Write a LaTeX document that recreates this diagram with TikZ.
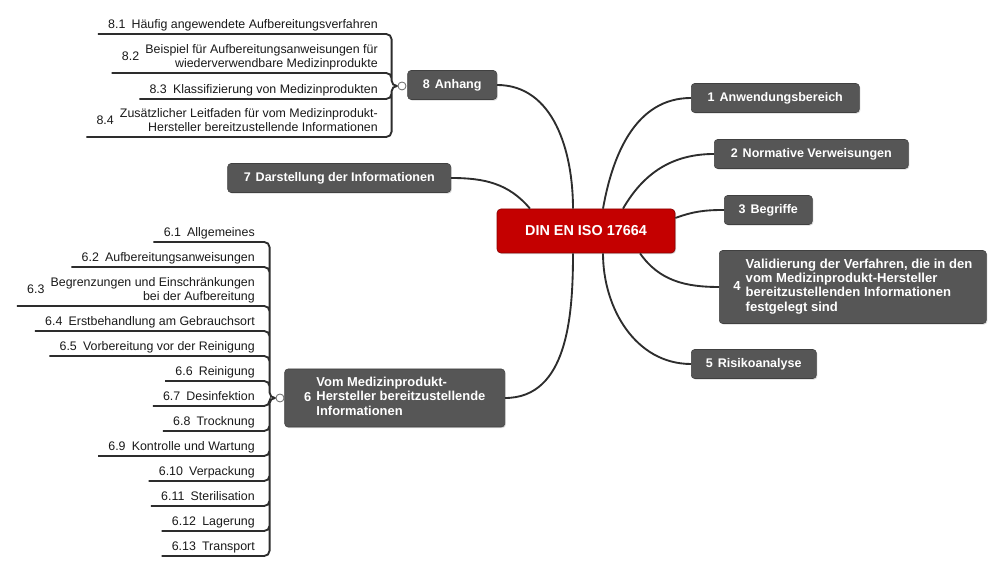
\documentclass[tikz,border=0pt]{standalone}
\usepackage{fontspec}
\setmainfont{Liberation Sans}
\usepackage{xcolor}
\definecolor{boxgray}{RGB}{86,86,86}
\definecolor{rootred}{RGB}{196,0,0}
\definecolor{linegray}{RGB}{45,45,45}
\newcommand{\topiclabel}[2]{#1\hspace{0.4em}\begin{tabular}[c]{@{}l@{}}#2\end{tabular}}
\newcommand{\secline}[2]{#1\hspace{0.5em}\begin{tabular}[c]{@{}r@{}}#2\end{tabular}}
\usepackage{tikz}
\usetikzlibrary{calc}
\usetikzlibrary{shadows}

\begin{document}
\begin{tikzpicture}[x=0.75pt, y=0.75pt,
    topicbox/.style={fill=boxgray, draw=black!75, line width=0.4pt, rounded corners=2.5pt,
      text=white, font=\bfseries\fontsize{9.4}{10.7}\selectfont, minimum height=21.75pt,
      inner xsep=6pt, drop shadow={opacity=0.3, shadow xshift=0.8pt, shadow yshift=-0.8pt}},
    rootbox/.style={fill=rootred, draw=rootred!70!black, line width=0.5pt, rounded corners=3pt,
      text=white, font=\bfseries\fontsize{10.8}{13}\selectfont, minimum width=133.5pt,
      minimum height=33pt, drop shadow={opacity=0.3, shadow xshift=0.8pt, shadow yshift=-0.8pt}},
    secitem/.style={anchor=south east, inner xsep=7.5pt, inner ysep=1.2pt,
      font=\fontsize{9.3}{10.2}\selectfont, text=black!90},
    hubdot/.style={circle, draw=black!60, fill=white, inner sep=0pt, minimum size=6pt, line width=0.6pt},
    branchline/.style={draw=linegray, line width=1.4pt},
    bracketline/.style={draw=linegray, line width=1.4pt, rounded corners=4pt}]

    \useasboundingbox (0, 0) rectangle (1000, 570);

    \node [rootbox] (din) at (586, 339) {DIN EN ISO 17664};

    \node [topicbox, anchor=west, minimum width=126pt] (anw) at (691, 472)
    {1\hspace{0.4em}Anwendungsbereich};

    \node [topicbox, anchor=west, minimum width=145.5pt] (norm) at (714, 416)
    {2\hspace{0.4em}Normative Verweisungen};

    \node [topicbox, anchor=west, minimum width=66pt] (begr) at (724, 360)
    {3\hspace{0.4em}Begriffe};

    \node [topicbox, anchor=west, minimum width=200.25pt, minimum height=54.75pt,
      font=\bfseries\fontsize{9.8}{10.7}\selectfont] (valid) at (719, 283)
    {\topiclabel{4}{Validierung der Verfahren, die in den\\vom Medizinprodukt-Hersteller\\bereitzustellenden Informationen\\festgelegt sind}};

    \node [topicbox, anchor=west, minimum width=93.75pt] (risk) at (691, 206)
    {5\hspace{0.4em}Risikoanalyse};

    \node [topicbox, anchor=east, minimum width=165pt, minimum height=43.5pt,
      font=\bfseries\fontsize{9.7}{10.7}\selectfont] (info) at (505, 172)
    {\raisebox{-2pt}{\topiclabel{6}{Vom Medizinprodukt-\\Hersteller bereitzustellende\\Informationen}}\hspace{16pt}};

    \node [topicbox, anchor=east, minimum width=167.25pt] (darst) at (451, 392)
    {7\hspace{0.4em}Darstellung der Informationen};

    \node [topicbox, anchor=east, minimum width=66.75pt] (anh) at (497, 485)
    {8\hspace{0.4em}Anhang};

    \draw [branchline] ($(din.north)+(-13,0)$) to [out=90, in=0] (anh.east);
    \draw [branchline] ($(din.north)+(-56,0)$) to [out=130, in=0] (darst.east);
    \draw [branchline] ($(din.north)+(17,0)$) to [out=80, in=180] (anw.west);
    \draw [branchline] ($(din.north)+(37,0)$) to [out=60, in=180] (norm.west);
    \draw [branchline] ($(din.east)+(0,13)$) to [out=20, in=180] (begr.west);
    \draw [branchline] ($(din.south)+(54,0)$) to [out=-55, in=180] (valid.west);
    \draw [branchline] ($(din.south)+(17,0)$) to [out=-90, in=180] (risk.west);
    \draw [branchline] ($(din.south)+(-13,0)$) to [out=-90, in=0] (info.east);

    \node [hubdot] (anhhub) at (402, 484) {};

    \node [secitem] (anh1) at (388, 536)
    {\secline{8.1}{Häufig angewendete Aufbereitungsverfahren}};
    \node [secitem] (anh2) at (388, 497)
    {\secline{8.2}{Beispiel für Aufbereitungsanweisungen für\\wiederverwendbare Medizinprodukte}};
    \node [secitem] (anh3) at (388, 471)
    {\secline{8.3}{Klassifizierung von Medizinprodukten}};
    \node [secitem] (anh4) at (388, 433)
    {\secline{8.4}{Zusätzlicher Leitfaden für vom Medizinprodukt-\\Hersteller bereitzustellende Informationen}};

    \draw [bracketline] (anhhub.west) -- ++(-6,0) |- (anh1.south west)
    (anhhub.west) -- ++(-6,0) |- (anh2.south west)
    (anhhub.west) -- ++(-6,0) |- (anh3.south west)
    (anhhub.west) -- ++(-6,0) |- (anh4.south west);

    \node [hubdot] (infohub) at (280, 172) {};

    \node [secitem] (inf1) at (265, 328) {\secline{6.1}{Allgemeines}};
    \node [secitem] (inf2) at (265, 303) {\secline{6.2}{Aufbereitungsanweisungen}};
    \node [secitem] (inf3) at (265, 264)
    {\secline{6.3}{Begrenzungen und Einschränkungen\\bei der Aufbereitung}};
    \node [secitem] (inf4) at (265, 239) {\secline{6.4}{Erstbehandlung am Gebrauchsort}};
    \node [secitem] (inf5) at (265, 214) {\secline{6.5}{Vorbereitung vor der Reinigung}};
    \node [secitem] (inf6) at (265, 189) {\secline{6.6}{Reinigung}};
    \node [secitem] (inf7) at (265, 164) {\secline{6.7}{Desinfektion}};
    \node [secitem] (inf8) at (265, 139) {\secline{6.8}{Trocknung}};
    \node [secitem] (inf9) at (265, 114) {\secline{6.9}{Kontrolle und Wartung}};
    \node [secitem] (inf10) at (265, 89) {\secline{6.10}{Verpackung}};
    \node [secitem] (inf11) at (265, 64) {\secline{6.11}{Sterilisation}};
    \node [secitem] (inf12) at (265, 39) {\secline{6.12}{Lagerung}};
    \node [secitem] (inf13) at (265, 14) {\secline{6.13}{Transport}};

    \draw [bracketline] (infohub.west) -- ++(-6,0) |- (inf1.south west)
    (infohub.west) -- ++(-6,0) |- (inf2.south west)
    (infohub.west) -- ++(-6,0) |- (inf3.south west)
    (infohub.west) -- ++(-6,0) |- (inf4.south west)
    (infohub.west) -- ++(-6,0) |- (inf5.south west)
    (infohub.west) -- ++(-6,0) |- (inf6.south west)
    (infohub.west) -- ++(-6,0) |- (inf7.south west)
    (infohub.west) -- ++(-6,0) |- (inf8.south west)
    (infohub.west) -- ++(-6,0) |- (inf9.south west)
    (infohub.west) -- ++(-6,0) |- (inf10.south west)
    (infohub.west) -- ++(-6,0) |- (inf11.south west)
    (infohub.west) -- ++(-6,0) |- (inf12.south west)
    (infohub.west) -- ++(-6,0) |- (inf13.south west);

  \end{tikzpicture}
\end{document}
